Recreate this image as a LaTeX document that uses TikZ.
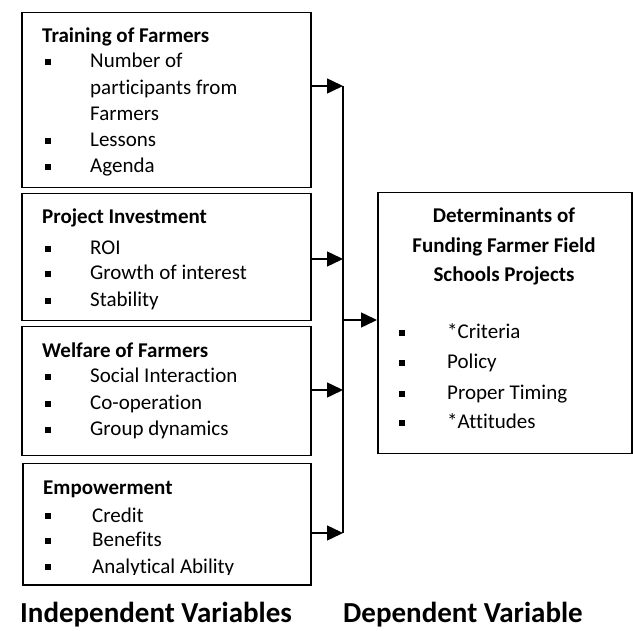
\documentclass[tikz,border=0pt]{standalone}
\usepackage{fontspec}
\setmainfont[Ligatures=NoCommon]{Carlito}
\usetikzlibrary{arrows.meta}
\begin{document}
\begin{tikzpicture}[x=1pt,y=-1pt,
  box/.style={draw,line width=1.5pt,inner sep=0pt,anchor=north west},
  txt/.style={anchor=base west,inner sep=0pt,font=\fontsize{21}{25}\selectfont},
  hdr/.style={anchor=base west,inner sep=0pt,font=\fontsize{21}{25}\selectfont\bfseries},
  chdr/.style={anchor=base,inner sep=0pt,font=\fontsize{21}{25}\selectfont\bfseries},
  big/.style={anchor=base west,inner sep=0pt,font=\fontsize{29}{33}\selectfont\bfseries},
  bul/.style={fill,minimum size=6pt,inner sep=0pt},
  conn/.style={line width=1.5pt},
  arr/.style={conn,-{Triangle[length=16pt,width=15pt]}}
]
\useasboundingbox (0,0) rectangle (633,631);

% boxes
\node[box,minimum width=289pt,minimum height=175pt] (b1) at (21,12) {};
\node[box,minimum width=289pt,minimum height=127pt] (b2) at (21,193) {};
\node[box,minimum width=289pt,minimum height=129pt] (b3) at (21,326) {};
\node[box,minimum width=288pt,minimum height=121pt] (b4) at (22,463) {};
\node[box,minimum width=254pt,minimum height=261pt] (rb) at (377,192) {};

% box 1
\node[hdr] (h1) at (42,43) {Training of Farmers};
\node[bul] (p11) at (48,62) {};
\node[txt] (t11) at (90,68) {Number of};
\node[txt] (t12) at (90,95) {participants from};
\node[txt] (t13) at (90,121) {Farmers};
\node[bul] (p12) at (48,141) {};
\node[txt] (t14) at (90,147) {Lessons};
\node[bul] (p13) at (48,167) {};
\node[txt] (t15) at (90,173) {Agenda};

% box 2
\node[hdr] (h2) at (42,224) {Project Investment};
\node[bul] (p21) at (48,249) {};
\node[txt] (t21) at (90,255) {ROI};
\node[bul] (p22) at (48,274) {};
\node[txt] (t22) at (90,280) {Growth of interest};
\node[bul] (p23) at (48,301) {};
\node[txt] (t23) at (90,307) {Stability};

% box 3
\node[hdr] (h3) at (42,358) {Welfare of Farmers};
\node[bul] (p31) at (48,377) {};
\node[txt] (t31) at (90,383) {Social Interaction};
\node[bul] (p32) at (48,404) {};
\node[txt] (t32) at (90,410) {Co-operation};
\node[bul] (p33) at (48,430) {};
\node[txt] (t33) at (90,436) {Group dynamics};

% box 4
\node[hdr] (h4) at (43,495) {Empowerment};
\node[bul] (p41) at (48,516) {};
\node[txt] (t41) at (92,522) {Credit};
\node[bul] (p42) at (48,541) {};
\node[txt] (t42) at (92,547) {Benefits};
\node[bul] (p43) at (48,567) {};
\begin{scope}
\clip (0,463) rectangle (633,575);
\node[txt] (t43) at (92,573) {Analytical Ability};
\end{scope}

% right box
\node[chdr] (r1) at (504,223) {Determinants of};
\node[chdr] (r2) at (504,253) {Funding Farmer Field};
\node[chdr] (r3) at (504,282) {Schools Projects};
\node[bul] (q1) at (402,333) {};
\node[txt] (s1) at (447,339) {*Criteria};
\node[bul] (q2) at (402,363) {};
\node[txt] (s2) at (447,369) {Policy};
\node[bul] (q3) at (402,394) {};
\node[txt] (s3) at (447,400) {Proper Timing};
\node[bul] (q4) at (402,423) {};
\node[txt] (s4) at (447,429) {*Attitudes};

% connectors
\coordinate (j1) at (343,86);
\coordinate (j2) at (343,259);
\coordinate (j3) at (343,390);
\coordinate (j4) at (343,533);
\coordinate (jm) at (343,320);
\draw[conn] (j1) -- (j4);
\draw[arr] (b1.east |- j1) -- (j1);
\draw[arr] (b2.east |- j2) -- (j2);
\draw[arr] (b3.east |- j3) -- (j3);
\draw[arr] (b4.east |- j4) -- (j4);
\draw[arr] (jm) -- (jm -| rb.west);

% labels
\node[big] (iv) at (20,623) {Independent Variables};
\node[big] (dv) at (343,623) {Dependent Variable};
\end{tikzpicture}
\end{document}
